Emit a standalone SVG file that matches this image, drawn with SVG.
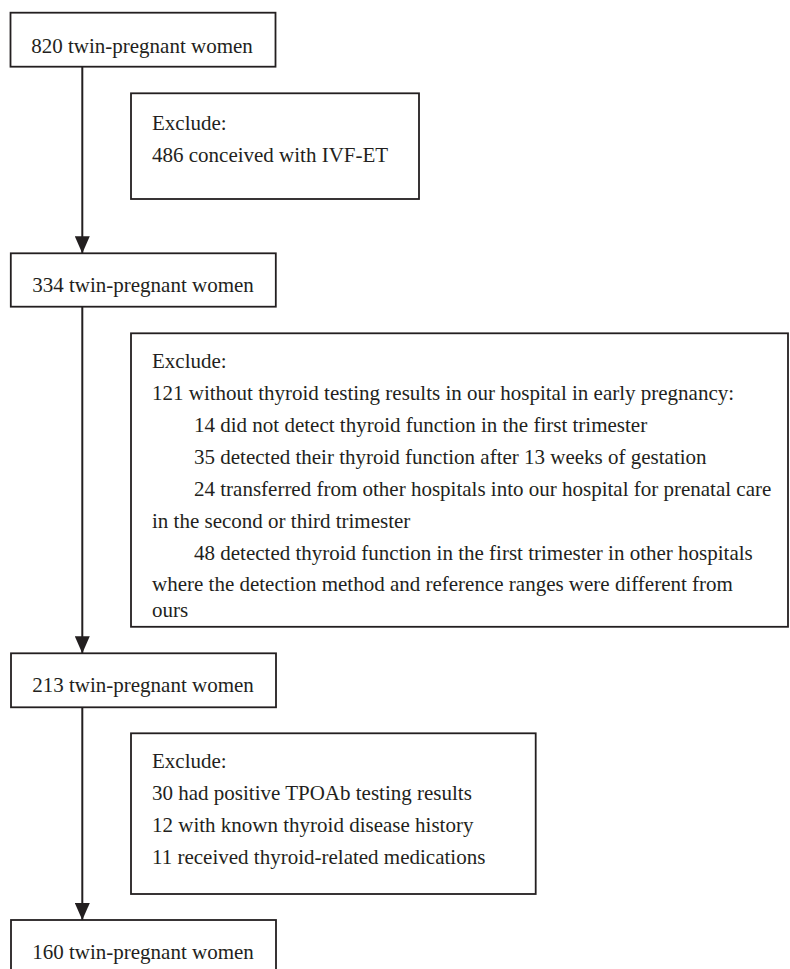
<svg xmlns="http://www.w3.org/2000/svg" width="790" height="969" viewBox="0 0 790 969">
<style>
  .box { fill: #ffffff; stroke: #231f20; stroke-width: 1.8; }
  .t { font-family: "Liberation Serif", "Times New Roman", serif; font-size: 21px; fill: #231f20; }
  .c { text-anchor: middle; }
  .edge { stroke: #231f20; stroke-width: 2; fill: none; }
</style>
<defs>
  <marker id="arr" markerUnits="userSpaceOnUse" markerWidth="17" markerHeight="15" viewBox="0 0 17 15" refX="17" refY="7.5" orient="auto">
    <path d="M0,0 L17,7.5 L0,15 Z" fill="#231f20"/>
  </marker>
</defs>
<rect width="790" height="969" fill="#ffffff"/>
<g id="connectors">
  <line class="edge" x1="82.3" y1="66.7" x2="82.3" y2="253.3" marker-end="url(#arr)"/>
  <line class="edge" x1="82.3" y1="306.7" x2="82.3" y2="653.3" marker-end="url(#arr)"/>
  <line class="edge" x1="82.3" y1="707.3" x2="82.3" y2="920" marker-end="url(#arr)"/>
</g>
<g id="n820">
  <rect class="box" x="10.5" y="12.7" width="265" height="54"/>
  <text class="t c" x="142" y="52.5">820 twin-pregnant women</text>
</g>
<g id="ex1">
  <rect class="box" x="131" y="93.3" width="288" height="105.7"/>
  <text class="t" x="152" y="129.5">Exclude:</text>
  <text class="t" x="152" y="161.5">486 conceived with IVF-ET</text>
</g>
<g id="n334">
  <rect class="box" x="10.8" y="253.3" width="265" height="53.4"/>
  <text class="t c" x="143" y="291.7">334 twin-pregnant women</text>
</g>
<g id="ex2">
  <rect class="box" x="131" y="333.3" width="657" height="293.5"/>
  <text class="t" x="152" y="368">Exclude:</text>
  <text class="t" x="152" y="400">121 without thyroid testing results in our hospital in early pregnancy:</text>
  <text class="t" x="194" y="432">14 did not detect thyroid function in the first trimester</text>
  <text class="t" x="194" y="464">35 detected their thyroid function after 13 weeks of gestation</text>
  <text class="t" x="194" y="496">24 transferred from other hospitals into our hospital for prenatal care</text>
  <text class="t" x="152" y="528">in the second or third trimester</text>
  <text class="t" x="194" y="560">48 detected thyroid function in the first trimester in other hospitals</text>
  <text class="t" x="152" y="591">where the detection method and reference ranges were different from</text>
  <text class="t" x="152" y="617">ours</text>
</g>
<g id="n213">
  <rect class="box" x="11" y="653.3" width="265" height="54"/>
  <text class="t c" x="143" y="691.7">213 twin-pregnant women</text>
</g>
<g id="ex3">
  <rect class="box" x="131" y="733.3" width="404.7" height="160.7"/>
  <text class="t" x="152" y="768">Exclude:</text>
  <text class="t" x="152" y="800">30 had positive TPOAb testing results</text>
  <text class="t" x="152" y="832">12 with known thyroid disease history</text>
  <text class="t" x="152" y="864">11 received thyroid-related medications</text>
</g>
<g id="n160">
  <rect class="box" x="11" y="920" width="265" height="60"/>
  <text class="t c" x="143" y="959">160 twin-pregnant women</text>
</g>
</svg>
